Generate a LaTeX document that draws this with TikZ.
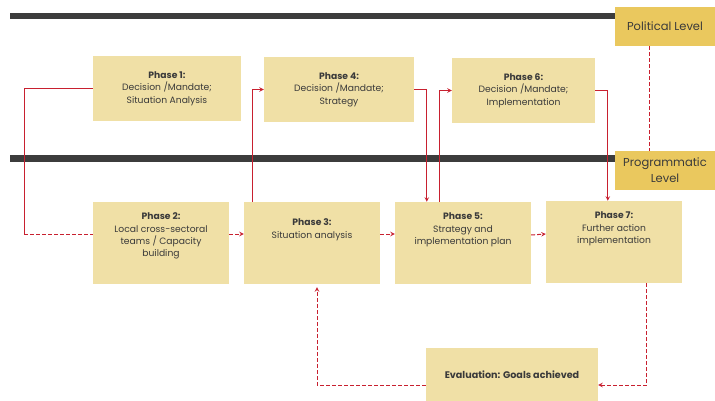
\documentclass[tikz,border=0pt]{standalone}
\usepackage{fontspec}
\setmainfont{Poppins}
\usepackage{xcolor}
\usepackage{tikz}
\usetikzlibrary{shapes.geometric, arrows}
\definecolor{boxfill}{HTML}{F0E0A6}
\definecolor{levelfill}{HTML}{EAC85E}
\definecolor{linkred}{HTML}{C8202F}
\definecolor{bargray}{HTML}{3C3C3C}
\definecolor{textgray}{HTML}{3A3A3A}
\tikzstyle{phase} = [fill=boxfill,text=textgray,align=center,inner sep=0pt,
    font=\fontsize{9.2}{12.4}\selectfont]
\tikzstyle{level} = [fill=levelfill,text=textgray,align=center,inner sep=0pt,
    minimum width=100pt,minimum height=39pt,font=\fontsize{11.5}{16}\selectfont]
\tikzstyle{bar} = [line width=6.5pt,color=bargray]
\tikzstyle{link} = [line width=1pt,color=linkred,>=stealth]
\tikzstyle{dlink} = [link,dash pattern=on 4pt off 2pt]

\begin{document}
\begin{tikzpicture}[x=1pt,y=-1pt]
            \useasboundingbox (0,0) rectangle (715,401);
            % level bars
            \draw[bar] (10,16) -- (615,16);
            \draw[bar] (10,158.5) -- (615,158.5);
            \node[level] (pol) at (665,26.5) {Political Level};
            \node[level] (prog) at (665,170.5) {Programmatic\\Level};
            \draw[dlink] ([xshift=-16pt]pol.south) -- ([xshift=-16pt]prog.north);
            % political level
            \node[phase,minimum width=148pt,minimum height=65pt] (p1) at (167,88.5)
                {\textbf{Phase 1:}\\Decision /Mandate;\\Situation Analysis};
            \node[phase,minimum width=150pt,minimum height=65pt] (p4) at (339,89.5)
                {\textbf{Phase 4:}\\Decision /Mandate;\\Strategy};
            \node[phase,minimum width=143pt,minimum height=65pt] (p6) at (523.5,90.5)
                {\textbf{Phase 6:}\\Decision /Mandate;\\Implementation};
            % programmatic level
            \node[phase,minimum width=136pt,minimum height=82pt] (p2) at (161,243)
                {\textbf{Phase 2:}\\Local cross-sectoral\\teams / Capacity\\building\\\strut};
            \node[phase,minimum width=136pt,minimum height=82pt] (p3) at (312,243)
                {\textbf{Phase 3:}\\Situation analysis\\\strut\\\strut};
            \node[phase,minimum width=136pt,minimum height=82pt] (p5) at (463,243)
                {\textbf{Phase 5:}\\Strategy and\\implementation plan\\\strut\\\strut};
            \node[phase,minimum width=136pt,minimum height=82pt] (p7) at (614,242)
                {\textbf{Phase 7:}\\Further action\\implementation\\\strut\\\strut};
            \node[phase,minimum width=172pt,minimum height=53pt,font=\fontsize{9.6}{12.4}\selectfont] (ev) at (512,374.5)
                {\textbf{Evaluation: Goals achieved}};
            % connectors
            \coordinate (c1) at (24,234);
            \draw[link] (p1.west) -| (c1);
            \draw[dlink] (c1) -- ([yshift=9pt]p2.west);
            \draw[dlink,->] ([yshift=9pt]p2.east) -- ([yshift=9pt]p3.west);
            \draw[link,->] ([xshift=9pt]p3.north west) |- (p4.west);
            \draw[link,->] (p4.east) -| ([xshift=32pt]p5.north west);
            \draw[link,->] ([xshift=45pt]p5.north west) |- (p6.west);
            \draw[link,->] (p6.east) -| ([xshift=62pt]p7.north west);
            \draw[dlink,->] ([yshift=9pt]p3.east) -- ([yshift=9pt]p5.west);
            \draw[dlink,->] ([yshift=8pt]p5.east) -- ([yshift=8pt]p7.west);
            \draw[dlink,->] ([xshift=101pt]p7.south west) |- ([yshift=-10.5pt]ev.east);
            \draw[dlink,->] ([yshift=-10.5pt]ev.west) -| ([xshift=5pt,yshift=-3pt]p3.south);
        \end{tikzpicture}
\end{document}
